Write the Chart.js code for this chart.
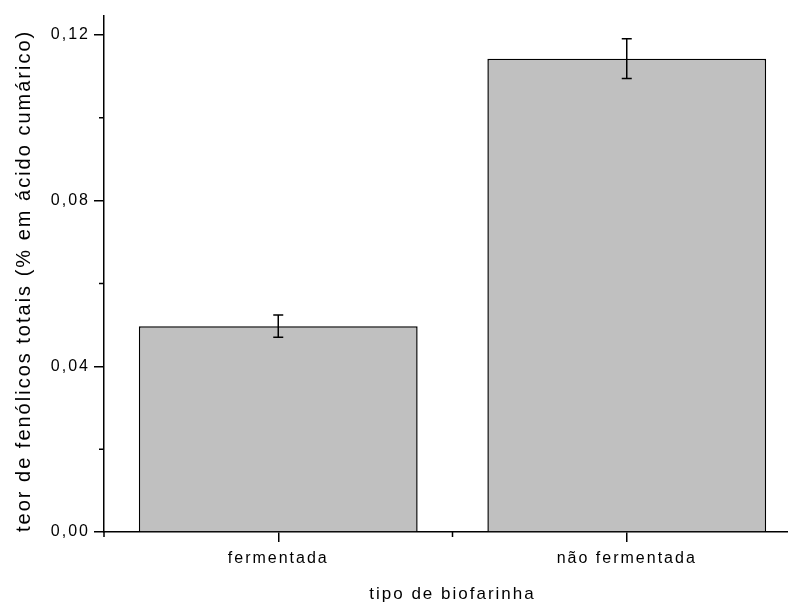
<!DOCTYPE html>
<html>
<head>
<meta charset="utf-8">
<script src="https://cdn.jsdelivr.net/npm/chart.js@4.4.1/dist/chart.umd.min.js"></script>
<style>
  html,body{margin:0;padding:0;background:#fff;overflow:hidden;}
  #wrap{width:801px;height:605px;}
</style>
</head>
<body>
<div id="wrap"><canvas id="chart" width="801" height="605"></canvas></div>
<script>
// datos
const categorias = ['fermentada', 'não fermentada'];
const valores    = [0.0497, 0.1143];
const errores    = [0.0027, 0.0048];
const yTicks     = [0, 0.04, 0.08, 0.12];
const yMax       = 0.1246;

const fmtComa = v => v.toFixed(2).replace('.', ',');
const FUENTE = 'Liberation Sans, Arial, sans-serif';

// barras de error + ticks menores (a mano, Chart.js no los trae)
const extras = {
  id: 'extras',
  beforeDraw(chart){ chart.ctx.letterSpacing = '2px'; },
  afterDatasetsDraw(chart){
    const {ctx, scales:{y}} = chart;
    const meta = chart.getDatasetMeta(0);
    ctx.save();
    ctx.strokeStyle = '#000';
    ctx.lineWidth = 1.5;
    meta.data.forEach((bar, i)=>{
      const top = y.getPixelForValue(valores[i] + errores[i]);
      const bot = y.getPixelForValue(valores[i] - errores[i]);
      ctx.beginPath();
      ctx.moveTo(bar.x, top); ctx.lineTo(bar.x, bot);
      ctx.moveTo(bar.x - 5, top); ctx.lineTo(bar.x + 5, top);
      ctx.moveTo(bar.x - 5, bot); ctx.lineTo(bar.x + 5, bot);
      ctx.stroke();
    });
    ctx.restore();
  },
  afterDraw(chart){
    const {ctx, scales:{x, y}, chartArea} = chart;
    ctx.save();
    ctx.strokeStyle = '#000';
    ctx.lineWidth = 1.5;
    ctx.beginPath();
    // menores en y: a mitad de cada par de ticks
    const step = yTicks[1] - yTicks[0];
    for (let i = 0; i < yTicks.length; i++){
      const v = yTicks[i] + step/2;
      if (v > yMax) break;
      const py = y.getPixelForValue(v);
      ctx.moveTo(chartArea.left - 5, py); ctx.lineTo(chartArea.left, py);
    }
    // menores en x: bordes de categoría
    for (let i = 0; i <= categorias.length; i++){
      const px = x.getPixelForValue(i - 0.5);
      ctx.moveTo(px, chartArea.bottom); ctx.lineTo(px, chartArea.bottom + 5);
    }
    ctx.stroke();
    ctx.restore();
  }
};

new Chart(document.getElementById('chart'), {
  type: 'bar',
  data: {
    labels: categorias,
    datasets: [{
      data: valores,
      backgroundColor: '#c0c0c0',
      borderColor: '#000',
      borderWidth: 1.5,
      categoryPercentage: 0.8,
      barPercentage: 1
    }]
  },
  options: {
    responsive: false,
    animation: false,
    devicePixelRatio: 1,
    layout: { padding: { top: 16, right: 0, left: 0, bottom: 0 } },
    plugins: { legend: { display: false }, tooltip: { enabled: false } },
    scales: {
      x: {
        offset: true,
        grid: { display: true, drawOnChartArea: false, offset: false, color: '#000', tickLength: 10, lineWidth: 1.5 },
        border: { color: '#000', width: 1.5 },
        ticks: { color: '#000', padding: 7, font: { family: FUENTE, size: 16 } },
        title: {
          display: true, text: 'tipo de biofarinha', color: '#000',
          font: { family: FUENTE, size: 17 }, padding: { top: 0, bottom: 0 }
        },
        afterFit: s => { s.height = 73; }
      },
      y: {
        min: 0, max: yMax,
        afterBuildTicks: s => { s.ticks = yTicks.map(v => ({ value: v })); },
        grid: { display: true, drawOnChartArea: false, color: '#000', tickLength: 10, lineWidth: 1.5 },
        border: { color: '#000', width: 1.5 },
        ticks: { color: '#000', padding: 4, callback: v => fmtComa(v), font: { family: FUENTE, size: 16 } },
        title: {
          display: true, align: 'start', text: 'teor de fenólicos totais (% em ácido cumárico)', color: '#000',
          font: { family: FUENTE, size: 20 }, padding: { top: 12, bottom: 0 }
        },
        afterFit: s => { s.width = 104; }
      }
    }
  },
  plugins: [extras]
});
</script>
</body>
</html>
